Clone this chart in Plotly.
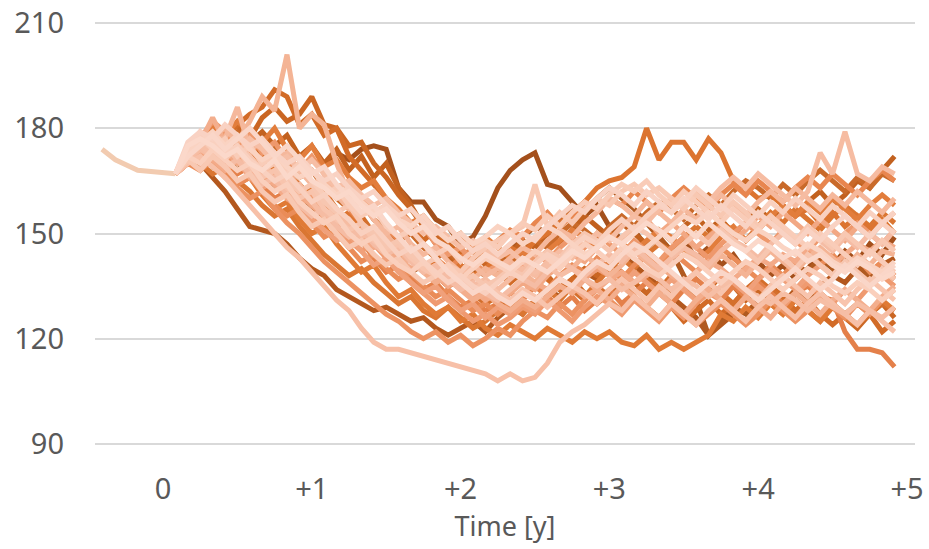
import plotly.graph_objects as go

# ---- time grid (years) ----
months = list(range(1, 60))
years = [m / 12 for m in months]

# observed history before the projection start
hist_years = [-0.41, -0.32, -0.17, -0.08, 1 / 12]
hist_values = [174, 171, 168, 167.7, 167]

# ---- simulated paths, monthly values ----
path_01 = [167,172,175,173,171,174,170,172,169,171, 168,171,169,173,171,174,175,174,163,159,
           159,154,152,147,149,155,163,168,171,173, 164,163,159,155,158,152,148,151,146,149,
           145,148,143,146,141,144,139,142,138,141, 137,140,144,141,145,142,147,144,149]
path_02 = [167,171,170,166,162,157,152,151,150,147, 143,140,138,134,132,130,128,129,127,125,
           126,123,121,123,125,122,126,129,127,131, 134,132,136,139,137,141,144,141,138,135,
           132,129,126,121,124,127,125,129,132,130, 134,131,135,138,136,140,137,141,143]
path_03 = [167,173,177,180,178,181,176,179,175,178, 172,175,170,174,168,172,166,170,163,158,
           152,147,143,140,142,145,141,144,148,146, 150,147,151,155,152,149,153,150,147,151,
           148,152,155,151,154,150,153,157,154,158, 155,159,162,158,161,165,163,168,172]
path_04 = [167,172,176,174,178,181,177,183,186,182, 184,189,181,180,175,176,170,166,161,157,
           152,149,146,143,145,141,138,141,137,135, 138,134,137,140,138,142,139,136,133,136,
           132,135,131,134,138,135,131,134,130,127, 131,128,125,129,126,123,127,130,126]
path_05 = [167,173,176,179,177,181,184,186,191,189, 181,184,178,180,172,168,164,160,156,152,
           148,151,147,144,140,143,139,136,139,141, 137,134,137,133,130,133,136,132,129,126,
           129,125,128,131,127,130,134,131,135,132, 128,131,127,124,127,130,127,122,125]
path_06 = [167,171,175,173,177,174,170,173,168,165, 161,163,158,154,156,151,148,145,147,143,
           140,142,139,141,138,140,143,146,144,148, 150,153,156,159,163,165,166,169,180,171,
           176,176,171,177,173,165,163,160,161,158, 155,157,153,156,152,155,151,154,150]
path_07 = [167,170,173,171,168,164,166,161,157,159, 154,150,152,147,143,139,141,136,132,134,
           130,127,129,125,127,123,121,124,122,120, 123,121,119,122,120,122,119,118,121,117,
           119,117,119,121,127,125,129,126,130,127, 131,128,125,129,126,124,128,131,128]
path_08 = [167,172,170,174,171,167,169,164,160,162, 157,153,155,150,146,148,143,139,141,137,
           134,136,132,129,131,128,130,133,131,135, 132,129,132,128,131,134,130,133,136,133,
           130,134,137,134,131,135,132,136,133,130, 133,135,132,131,122,117,117,116,112]
path_09 = [167,174,178,175,180,177,173,176,170,167, 169,164,160,162,157,153,150,152,148,145,
           147,143,140,143,146,144,148,151,149,153, 156,152,155,159,157,160,158,162,159,156,
           160,163,160,157,161,164,161,165,162,159, 163,166,163,167,164,161,165,168,165]
path_10 = [167,170,168,171,167,164,166,162,158,155, 157,153,149,151,146,142,144,140,137,139,
           135,132,134,131,128,130,127,130,133,136, 134,138,141,139,143,140,137,141,144,141,
           145,142,139,143,146,143,140,137,141,138, 142,145,141,144,140,143,139,142,138]
path_11 = [167,171,174,170,166,163,160,162,157,153, 150,146,142,139,136,133,130,127,125,122,
           120,122,119,121,118,120,123,121,125,128, 126,130,127,131,134,131,128,132,129,126,
           130,127,124,127,130,127,124,127,131,128, 125,128,132,129,126,130,127,131,134]
path_12 = [167,173,177,182,179,175,178,173,176,171, 168,172,167,163,165,160,156,158,153,150,
           152,147,144,146,142,139,141,138,141,144, 142,146,149,146,150,147,144,148,145,142,
           146,149,146,143,147,150,153,150,147,151, 148,145,149,146,150,153,150,147,151]
path_13 = [167,172,175,172,169,171,166,163,165,160, 157,154,151,148,150,145,141,143,139,136,
           133,135,131,128,130,126,129,127,130,128, 132,135,133,137,140,138,135,139,136,133,
           137,134,131,135,138,136,133,137,140,137, 134,138,141,138,142,139,136,140,137]
path_14 = [167,170,173,176,174,170,172,167,164,166, 161,158,160,155,152,148,150,146,142,144,
           140,137,139,135,132,134,131,133,136,134, 138,141,144,142,146,149,147,151,154,150,
           153,150,146,149,152,148,151,155,152,156, 153,150,154,151,148,152,149,153,156]
path_15 = [167,172,176,183,176,173,175,170,166,168, 163,159,155,157,152,148,150,145,141,143,
           139,136,138,134,131,133,130,128,131,129, 132,135,133,137,134,131,135,132,129,133,
           130,127,131,134,131,128,132,129,126,130, 133,130,127,131,134,131,128,132,135]
path_16 = [167,173,176,178,180,176,182,189,185,201, 180,184,181,170,161,153,147,150,145,142,
           139,141,137,134,137,140,138,142,139,136, 140,143,140,144,141,138,141,145,142,139,
           143,146,143,140,144,141,138,142,145,142, 139,143,146,143,140,144,141,145,144]
path_17 = [167,173,175,177,177,186,174,176,171,173, 168,164,166,161,157,159,154,150,152,147,
           144,146,142,139,141,138,140,143,146,144, 148,151,149,153,156,160,158,155,159,156,
           153,157,154,158,161,158,155,159,162,159, 163,160,157,161,158,162,159,156,160]
path_18 = [167,171,174,172,175,171,168,170,165,162, 164,159,155,157,152,149,151,147,144,146,
           142,139,141,138,135,137,134,137,140,138, 142,145,143,147,150,148,152,155,153,157,
           160,158,162,159,163,166,163,167,164,161, 158,162,173,167,179,167,165,169,167]
path_19 = [167,170,172,169,166,162,158,154,150,146, 143,139,135,131,128,123,119,117,117,116,
           115,114,113,112,111,110,108,110,108,109, 113,119,122,124,127,130,128,132,129,126,
           130,127,124,128,131,128,125,129,132,129, 126,130,133,130,127,124,128,125,122]
path_20 = [167,174,179,176,172,174,169,166,168,163, 160,162,157,154,151,153,148,145,147,143,
           140,138,141,137,134,136,133,131,134,132, 129,132,135,133,130,134,137,134,131,135,
           132,136,139,136,133,137,134,131,135,138, 135,132,136,133,130,134,137,134,131]
path_21 = [167,171,168,172,169,165,167,162,159,161, 156,152,154,150,146,148,144,141,143,139,
           136,138,141,139,143,146,148,150,152,164, 152,156,153,157,160,158,162,164,161,163,
           160,157,161,158,155,159,156,152,155,151, 148,152,149,146,150,147,144,148,145]
path_22 = [167,175,178,174,177,172,175,170,172,167, 170,165,161,163,158,155,157,152,149,151,
           147,144,146,142,145,148,146,150,153,151, 155,152,156,159,157,161,164,162,165,161,
           158,162,159,156,153,157,154,151,155,152, 149,146,150,147,144,141,145,142,139]
path_23 = [167,172,170,174,171,168,170,165,162,164, 159,156,153,155,150,147,149,144,141,139,
           142,138,141,137,140,143,141,139,142,145, 143,140,144,147,145,142,146,143,140,138,
           141,144,142,139,136,139,142,140,137,134, 137,140,138,135,133,136,134,131,134]
path_24 = [167,173,176,179,175,178,174,171,173,169, 166,168,164,161,163,159,156,158,154,152,
           155,151,148,150,147,149,152,150,147,149, 152,150,147,144,146,149,147,144,146,149,
           152,155,153,156,153,150,148,151,149,146, 144,147,145,142,140,143,141,139,142]
path_25 = [167,175,177,175,172,174,170,168,171,166, 169,165,163,160,162,158,155,157,153,150,
           152,148,146,143,141,144,142,140,143,141, 139,142,145,143,146,149,147,150,153,151,
           148,152,149,153,150,147,145,148,146,143, 145,142,144,141,139,142,140,137,139]
path_26 = [167,172,175,178,176,179,175,172,174,169, 166,168,163,160,157,159,154,151,148,150,
           146,143,145,141,138,140,143,141,145,148, 146,150,153,151,148,152,155,152,156,159,
           157,154,158,161,158,162,165,163,160,164, 161,165,168,165,162,166,163,167,165]
path_27 = [167,170,173,170,174,177,173,170,172,167, 164,160,162,157,153,155,150,146,143,145,
           141,138,135,137,133,130,132,129,132,135, 133,137,134,131,135,132,136,139,137,134,
           138,135,132,136,133,130,134,137,134,131, 127,130,133,130,127,124,127,130,128]
path_28 = [167,173,170,167,169,165,162,158,155,157, 152,148,144,141,138,140,136,133,130,132,
           128,126,129,126,123,125,128,130,127,131, 134,131,135,132,136,140,143,140,144,147,
           145,149,152,149,153,151,148,152,156,153, 157,154,151,155,158,155,152,156,153]
path_29 = [167,174,177,181,178,182,179,176,180,174, 171,175,169,171,166,163,165,160,157,153,
           155,151,148,150,146,149,146,143,145,142, 145,148,151,149,146,150,147,145,148,151,
           149,145,142,145,149,152,148,151,155,158, 155,159,156,160,157,154,158,161,158]
path_30 = [167,171,173,169,172,168,171,167,163,165, 160,157,154,156,151,148,150,145,143,139,
           141,138,135,137,140,138,142,145,149,152, 150,154,158,156,160,163,160,157,153,149,
           145,138,131,121,125,129,127,131,135,138, 141,139,143,140,144,141,138,140,137]
path_31 = [167,172,176,173,170,172,168,164,167,162, 158,161,156,152,148,145,147,143,140,136,
           133,130,132,128,125,127,124,126,129,127, 131,128,125,129,132,130,127,131,128,125,
           129,126,130,133,131,128,132,135,132,129, 133,136,133,130,134,131,135,138,135]
path_32 = [167,171,175,172,176,173,177,174,170,172, 168,171,167,163,165,161,158,160,156,153,
           150,152,149,146,148,145,143,145,142,139, 141,138,140,137,135,137,134,136,139,137,
           134,137,135,132,135,137,134,132,130,133, 131,128,131,129,127,130,128,126,129]
path_33 = [167,173,178,176,173,175,171,168,165,167, 163,159,161,157,154,150,152,148,144,146,
           142,139,136,138,135,133,136,139,137,141, 144,142,146,149,147,151,154,151,155,158,
           156,159,163,160,157,161,158,155,159,156, 160,157,154,158,155,152,156,153,150]
path_34 = [167,170,174,171,168,171,166,169,164,160, 162,158,155,152,154,149,146,148,143,140,
           142,138,135,137,134,131,133,130,133,136, 134,137,135,132,134,137,139,136,138,141,
           138,136,139,142,140,137,140,143,141,144, 142,146,144,141,144,147,145,148,146]
path_35 = [167,174,177,174,171,175,172,168,170,165, 162,164,159,156,158,153,150,146,148,144,
           141,143,139,136,138,135,137,140,138,142, 145,143,147,150,148,145,149,152,150,147,
           144,147,150,147,151,148,145,142,146,143, 140,144,141,138,142,139,136,140,137]
path_36 = [167,172,175,178,174,177,180,176,172,175, 171,167,169,164,160,156,158,153,149,145,
           147,143,139,136,133,135,132,130,133,131, 134,137,135,139,142,140,144,147,145,142,
           139,136,133,136,139,137,134,131,134,137, 140,137,134,137,141,138,135,138,141]
path_37 = [167,171,176,173,169,171,167,164,166,161, 158,155,157,152,149,151,147,144,146,142,
           139,141,137,134,136,133,131,134,137,135, 139,142,140,138,141,144,142,146,143,140,
           143,146,144,141,145,148,146,143,147,150, 147,151,148,145,149,146,150,147,151]
path_38 = [167,176,179,177,181,178,175,177,173,170, 172,168,165,167,163,160,162,158,155,157,
           153,150,152,148,145,147,144,147,150,148, 152,155,158,156,160,163,161,158,162,159,
           156,160,157,154,158,155,152,156,153,150, 147,151,148,152,155,152,149,153,156]

# drawing order: darker shades underneath, paler shades on top
paths = [path_01, path_02, path_30, path_03, path_04, path_26, path_05, path_27, path_28,
         path_06, path_29, path_07, path_08, path_09, path_10, path_11, path_12, path_31,
         path_13, path_14, path_34, path_15, path_16, path_17, path_18, path_37, path_19,
         path_20, path_32, path_21, path_35, path_22, path_23, path_33, path_24, path_38,
         path_36, path_25]

path_colors = ["#A4501C", "#B3581E", "#B05A20", "#C2611F", "#CA6623", "#C96A2A", "#D26B27",
               "#D46F2C", "#DA7632", "#DC7430", "#E27D3C", "#E07A35", "#E4804A", "#E8864F",
               "#EA8C58", "#EC9262", "#EE986C", "#EF9A70", "#F0A07A", "#F2A884", "#F3AA88",
               "#F3AE8D", "#F4B495", "#F5B89C", "#F6BCA2", "#F5BCA4", "#F7C0A8", "#F8C4AD",
               "#F6BEA5", "#F8C8B2", "#F7C6B0", "#F9CCB8", "#FACFBC", "#F9D0BF", "#FAD3C2",
               "#F9D2C3", "#FAD6C8", "#FBD8CA"]

x_tick_vals = [0, 1, 2, 3, 4, 5]
x_tick_text = ["0", "+1", "+2", "+3", "+4", "+5"]
y_tick_vals = [90, 120, 150, 180, 210]

fig = go.Figure()

fig.add_trace(go.Scatter(x=hist_years, y=hist_values, mode="lines",
                         line=dict(color="#F2CBB0", width=5), hoverinfo="skip"))

for vals, col in zip(paths, path_colors):
    assert len(vals) == len(years)
    fig.add_trace(go.Scatter(x=years, y=vals, mode="lines",
                             line=dict(color=col, width=5), hoverinfo="skip"))

label_font = dict(family="Noto Sans", size=29, color="#595959")

fig.update_layout(
    width=929, height=549, autosize=False,
    margin=dict(l=95, r=14, t=20, b=102, pad=0),
    paper_bgcolor="white", plot_bgcolor="white",
    showlegend=False,
    xaxis=dict(range=[-0.457, 5.054], tickvals=x_tick_vals, ticktext=x_tick_text,
               showgrid=False, zeroline=False, showline=False, ticks="",
               automargin=False,
               tickfont=label_font, ticklabelstandoff=22,
               title=dict(text="Time [y]", font=dict(family="Noto Sans", size=27, color="#595959"),
                          standoff=10)),
    yaxis=dict(range=[89.14, 210.86], tickvals=y_tick_vals,
               showgrid=True, gridcolor="#D9D9D9", gridwidth=1.5,
               zeroline=False, showline=False, ticks="", automargin=False,
               tickfont=label_font, ticklabelstandoff=30),
)

fig.write_html("out.html")
